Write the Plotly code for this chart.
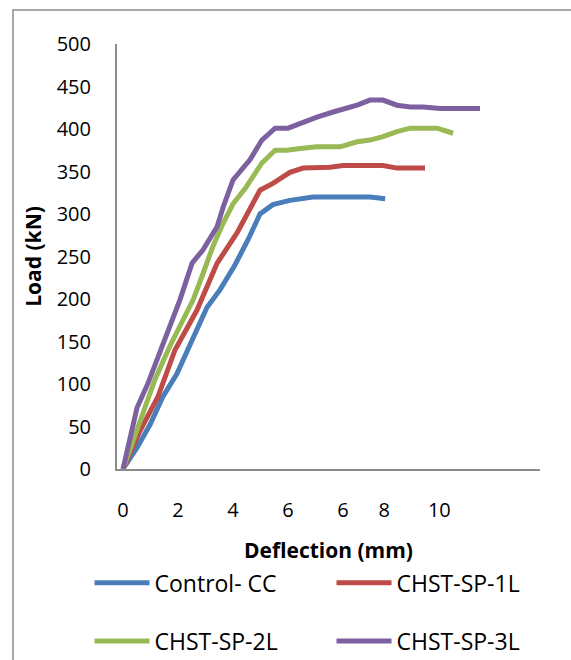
import plotly.graph_objects as go

# Deflection (mm) and Load (kN) readings for each specimen
control_x = [0, 0.51, 0.98, 1.45, 1.96, 2.44, 3.05, 3.53, 4.07, 4.55, 4.98, 5.45, 6.07, 6.91, 7.89, 8.98, 9.53]
control_y = [0, 25, 52, 85, 112, 146, 190, 211, 240, 270, 300, 311, 316, 320, 320, 320, 318]

sp1_x = [0, 0.62, 1.27, 1.89, 2.69, 3.42, 4.15, 4.62, 4.98, 5.45, 6.07, 6.55, 7.53, 8.0, 9.45, 9.96, 10.98]
sp1_y = [0, 45, 85, 140, 187, 242, 278, 305, 328, 336, 349, 354, 355, 357, 357, 354, 354]

sp2_x = [0, 0.62, 1.16, 1.71, 2.55, 2.91, 3.27, 3.64, 4.0, 4.44, 5.05, 5.53, 5.96, 6.44, 7.05, 7.89,
         8.51, 8.98, 9.45, 9.96, 10.44, 11.42, 12.0]
sp2_y = [0, 58, 105, 145, 199, 230, 262, 289, 312, 330, 360, 375, 375, 377, 379, 379,
         385, 387, 391, 397, 401, 401, 395]

sp3_x = [0, 0.51, 0.91, 1.27, 1.64, 2.07, 2.51, 2.91, 3.42, 3.64, 4.0, 4.62, 5.05, 5.53, 6.0, 6.44,
         7.05, 7.64, 8.51, 8.98, 9.45, 9.96, 10.44, 10.91, 11.53, 12.98]
sp3_y = [0, 72, 101, 132, 164, 199, 242, 258, 285, 308, 340, 364, 387, 401, 401, 407,
         414, 420, 428, 434, 434, 428, 426, 426, 424, 424]

series_names = ["Control- CC", "CHST-SP-1L", "CHST-SP-2L", "CHST-SP-3L"]
colors = ["#4A7EBB", "#BE4B48", "#98B954", "#7D60A0"]

x_tick_vals = [0, 2, 4, 6, 8, 9.5, 11.5]
x_tick_text = ["0", "2", "4", "6", "6", "8", "10"]
y_tick_vals = [0, 50, 100, 150, 200, 250, 300, 350, 400, 450, 500]

FONT = "Open Sans"

fig = go.Figure()
data = [(control_x, control_y), (sp1_x, sp1_y), (sp2_x, sp2_y), (sp3_x, sp3_y)]
legends = ["legend", "legend", "legend2", "legend2"]
for (xs, ys), name, c, lg in zip(data, series_names, colors, legends):
    fig.add_trace(go.Scatter(x=xs, y=ys, mode="lines", name=name,
                             line=dict(color=c, width=5), legend=lg))

fig.update_layout(
    width=571, height=660,
    margin=dict(l=117, r=31, t=44, b=191, autoexpand=False),
    paper_bgcolor="white", plot_bgcolor="white",
    font=dict(family=FONT, size=20, color="black"),
    showlegend=True,
    legend=dict(orientation="h", x=-0.065, y=-0.268, xanchor="left", yanchor="middle",
                font=dict(family=FONT, size=23), entrywidth=172, itemwidth=55,
                bgcolor="rgba(0,0,0,0)"),
    legend2=dict(orientation="h", x=-0.065, y=-0.405, xanchor="left", yanchor="middle",
                 font=dict(family=FONT, size=23), entrywidth=172, itemwidth=55,
                 bgcolor="rgba(0,0,0,0)"),
    shapes=[dict(type="rect", xref="paper", yref="paper",
                 x0=-0.2459, y0=1.08, x1=1.6, y1=-1.0,
                 line=dict(color="#8c8c8c", width=1.5), layer="below")],
)

fig.update_xaxes(
    range=[-0.218, 15.16], showgrid=False, zeroline=False,
    showline=True, linecolor="#8c8c8c", linewidth=2,
    tickmode="array", tickvals=x_tick_vals, ticktext=x_tick_text,
    ticks="", ticklabelstandoff=22,
    tickfont=dict(family=FONT, size=20),
    title=dict(text="<b>Deflection (mm)</b>", font=dict(family=FONT, size=21), standoff=21),
)
fig.update_yaxes(
    range=[0, 500], showgrid=False, zeroline=False,
    showline=True, linecolor="#8c8c8c", linewidth=2,
    tickmode="array", tickvals=y_tick_vals,
    ticks="", ticklabelstandoff=20,
    tickfont=dict(family=FONT, size=20),
    title=dict(text="<b>Load (kN)</b>", font=dict(family=FONT, size=21), standoff=9),
)

fig.write_html("out.html")
